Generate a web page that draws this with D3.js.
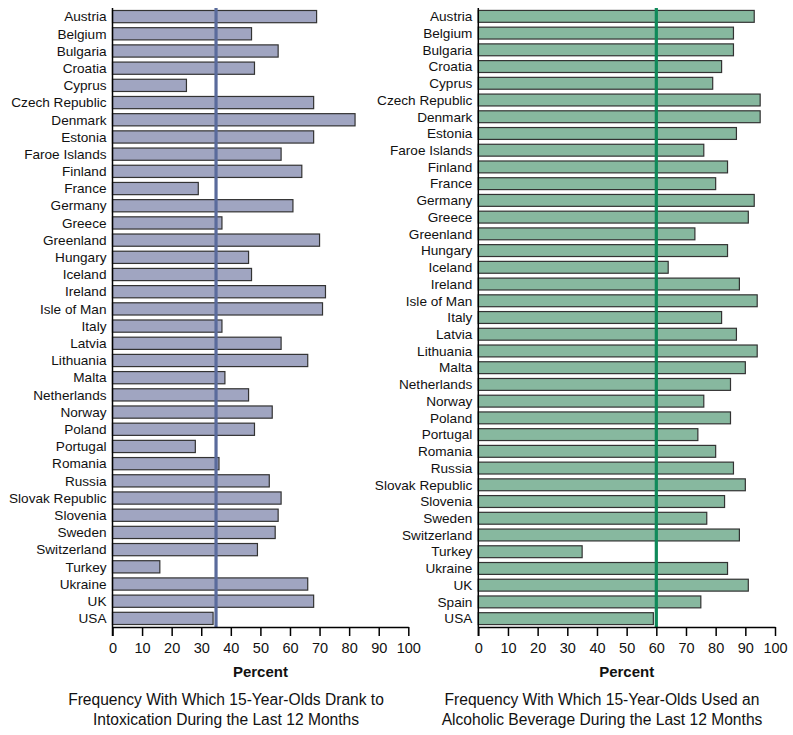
<!DOCTYPE html>
<html><head><meta charset="utf-8">
<script src="https://cdn.jsdelivr.net/npm/d3@7"></script>
<style>body{margin:0;background:#fff}svg{display:block;font-family:"Liberation Sans",Arial,sans-serif}</style>
</head><body>
<svg id="c" width="793" height="735"></svg>
<script>
const leftCountries = ["Austria","Belgium","Bulgaria","Croatia","Cyprus","Czech Republic","Denmark","Estonia","Faroe Islands","Finland","France","Germany","Greece","Greenland","Hungary","Iceland","Ireland","Isle of Man","Italy","Latvia","Lithuania","Malta","Netherlands","Norway","Poland","Portugal","Romania","Russia","Slovak Republic","Slovenia","Sweden","Switzerland","Turkey","Ukraine","UK","USA"];
const leftValues = [69,47,56,48,25,68,82,68,57,64,29,61,37,70,46,47,72,71,37,57,66,38,46,54,48,28,36,53,57,56,55,49,16,66,68,34];
const leftRef = 35;
const rightCountries = ["Austria","Belgium","Bulgaria","Croatia","Cyprus","Czech Republic","Denmark","Estonia","Faroe Islands","Finland","France","Germany","Greece","Greenland","Hungary","Iceland","Ireland","Isle of Man","Italy","Latvia","Lithuania","Malta","Netherlands","Norway","Poland","Portugal","Romania","Russia","Slovak Republic","Slovenia","Sweden","Switzerland","Turkey","Ukraine","UK","Spain","USA"];
const rightValues = [93,86,86,82,79,95,95,87,76,84,80,93,91,73,84,64,88,94,82,87,94,90,85,76,85,74,80,86,90,83,77,88,35,84,91,75,59];
const rightRef = 60;
const xTicks = [0,10,20,30,40,50,60,70,80,90,100];
const leftCaption = ["Frequency With Which 15-Year-Olds Drank to","Intoxication During the Last 12 Months"];
const rightCaption = ["Frequency With Which 15-Year-Olds Used an","Alcoholic Beverage During the Last 12 Months"];

const svg = d3.select("#c");

function panel(cfg){
  const g = svg.append("g");
  const x = d3.scaleLinear().domain([0,100]).range([cfg.x0, cfg.x1]);
  const y = d3.scaleBand().domain(cfg.cats).range([cfg.yTop, cfg.yBot]).paddingInner(cfg.pad).paddingOuter(cfg.pad/2);
  g.selectAll("rect.bar").data(cfg.cats).join("rect")
    .attr("class","bar")
    .attr("x", x(0)).attr("y", d=>y(d))
    .attr("width", (d,i)=>x(cfg.vals[i])-x(0))
    .attr("height", y.bandwidth())
    .attr("fill", cfg.fill).attr("stroke","#333").attr("stroke-width",1.2);
  g.selectAll("text.lab").data(cfg.cats).join("text")
    .attr("class","lab")
    .attr("x", x(0)-6).attr("y", d=>y(d)+y.bandwidth()/2)
    .attr("dy","0.35em").attr("text-anchor","end")
    .attr("font-size",13.6).attr("fill","#111").text(d=>d);
  g.append("line").attr("x1",x(cfg.ref)).attr("x2",x(cfg.ref))
    .attr("y1",cfg.yTop).attr("y2",cfg.yBot)
    .attr("stroke",cfg.refColor).attr("stroke-width",3.2);
  const ax = g.append("g").attr("transform",`translate(0,${cfg.yBot})`)
    .call(d3.axisBottom(x).tickValues(xTicks).tickSize(9).tickPadding(7).tickSizeOuter(0));
  ax.select(".domain").attr("stroke","#000").attr("stroke-width",1.5);
  ax.selectAll(".tick line").attr("stroke","#000").attr("stroke-width",1.5);
  ax.selectAll(".tick text").attr("font-size",14.5).attr("fill","#111").attr("font-family","Liberation Sans, Arial, sans-serif");
  g.append("line").attr("x1",x(0)).attr("x2",x(0)).attr("y1",cfg.yTop).attr("y2",cfg.yBot+9)
    .attr("stroke","#000").attr("stroke-width",1.5);
  g.append("text").attr("x",(cfg.x0+cfg.x1)/2).attr("y",677)
    .attr("text-anchor","middle").attr("font-size",15).attr("font-weight","bold").attr("fill","#111").text("Percent");
  g.selectAll("text.cap").data(cfg.caption).join("text").attr("class","cap")
    .attr("x",cfg.capX).attr("y",(d,i)=>705+i*20)
    .attr("text-anchor","middle").attr("font-size",15.6).attr("fill","#111").text(d=>d);
}

panel({cats:leftCountries, vals:leftValues, ref:leftRef, x0:112.5, x1:408.3, yTop:8, yBot:627,
  pad:0.29, fill:"#a0a5c1", refColor:"#5a6b9c", caption:leftCaption, capX:226});
panel({cats:rightCountries, vals:rightValues, ref:rightRef, x0:478.3, x1:775, yTop:8, yBot:627,
  pad:0.29, fill:"#87b89f", refColor:"#0f8a5a", caption:rightCaption, capX:602});
</script>
</body></html>
